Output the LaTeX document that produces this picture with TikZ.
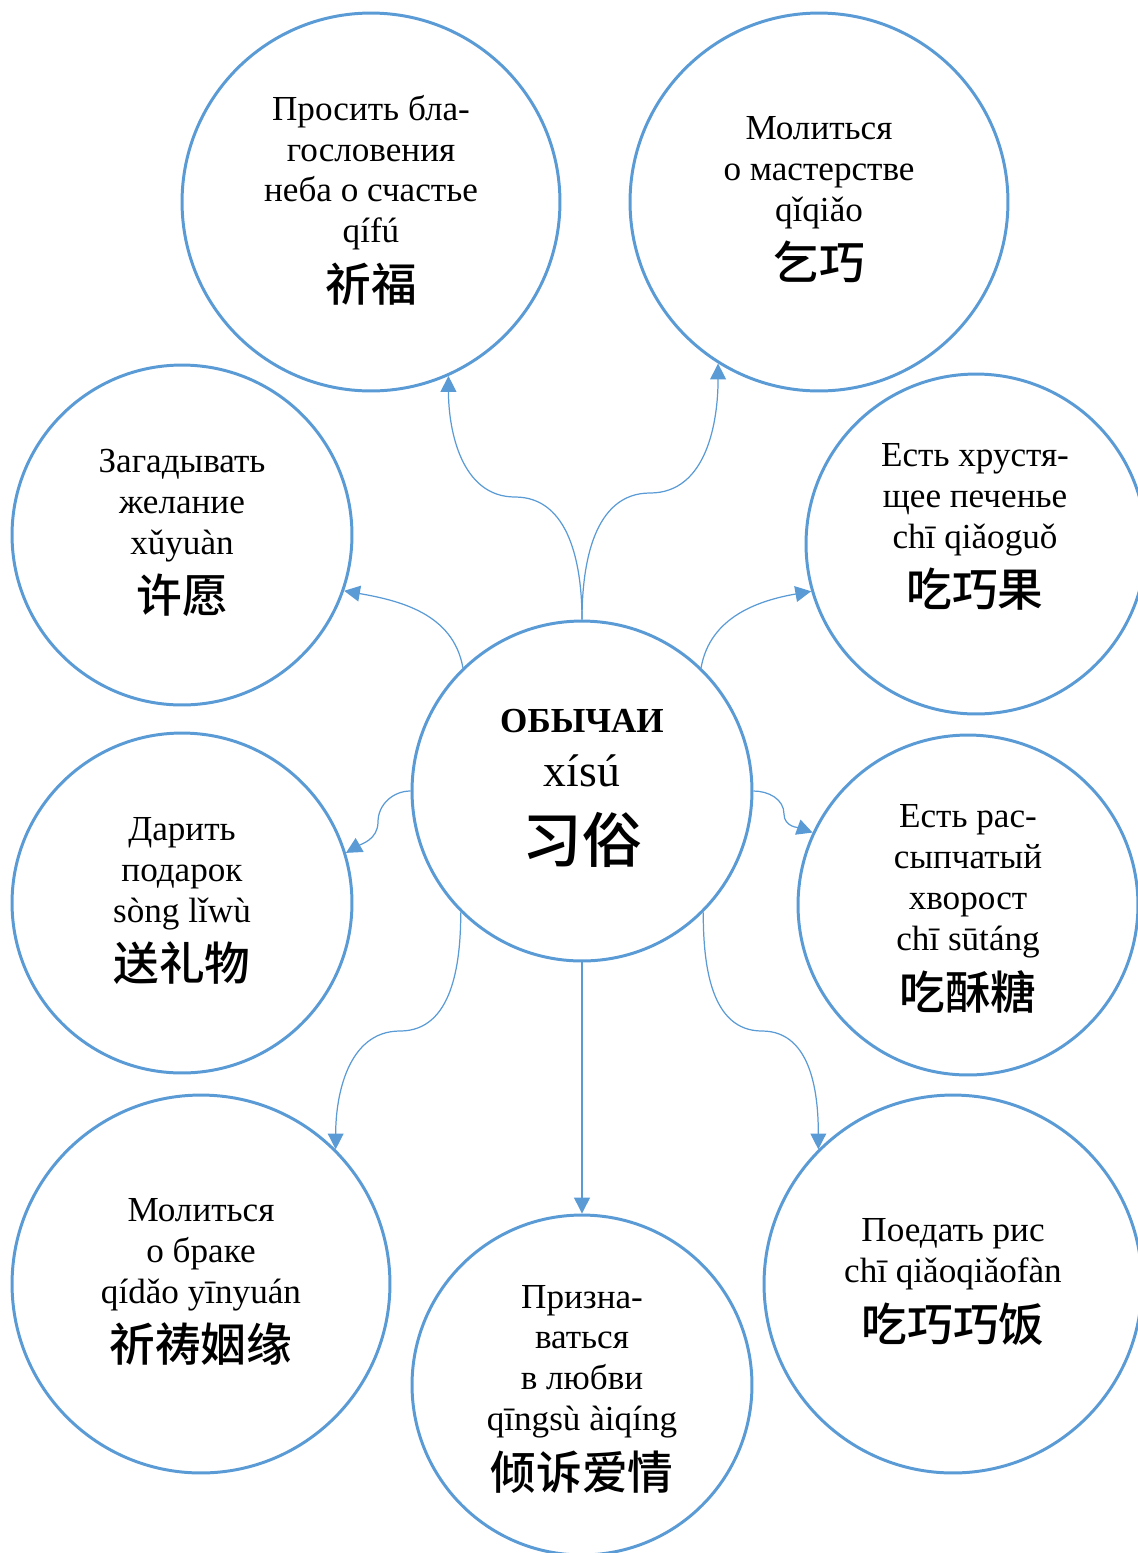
\documentclass[tikz,border=0pt]{standalone}
\usepackage{fontspec}
\setmainfont{Liberation Serif}
\newfontfamily\cjk{Noto Sans CJK SC}[BoldFont={Noto Sans CJK SC Medium}]
\usetikzlibrary{arrows.meta}
\definecolor{ringblue}{HTML}{5B9BD5}
\newcommand{\zh}[1]{{\cjk\bfseries\fontsize{26}{30}\selectfont #1}}
\begin{document}
\begin{tikzpicture}[x=0.02cm, y=-0.02cm,
    bubble/.style={circle, draw=ringblue, line width=1.7pt, inner sep=0pt, minimum size=6.8cm},
    bigbubble/.style={bubble, minimum size=7.56cm},
    note/.style={inner sep=0pt, align=center, font=\fontsize{20}{23.25}\selectfont},
    link/.style={draw=ringblue, line width=0.7pt, -{Triangle[width=9pt,length=9pt]}}]
  \useasboundingbox (0,0) rectangle (1138,1553);
  % 习俗
  \node[bubble] (hub) at (582,791) {};
  \node[note] (hubText) at (582,788) {\textbf{ОБЫЧАИ}\\[8pt]{\fontsize{26}{30}\selectfont xísú}\\[13pt]{\cjk\bfseries\fontsize{34}{38}\selectfont 习俗}};
  % 上
  \node[bigbubble] (qifu) at (371,202) {};
  \node[note] (qifuText) at (371,200) {Просить бла-\\гословения\\неба о счастье\\qífú\\[6pt]\zh{祈福}};
  \node[bigbubble] (qiqiao) at (819,202) {};
  \node[note] (qiqiaoText) at (819,200) {Молиться\\о мастерстве\\qǐqiǎo\\[6pt]\zh{乞巧}};
  % 左右
  \node[bubble] (xuyuan) at (182,535) {};
  \node[note] (xuyuanText) at (182,533) {Загадывать\\желание\\xǔyuàn\\[6pt]\zh{许愿}};
  \node[bubble] (qiaoguo) at (976,544) {};
  \node[note] (qiaoguoText) at (975,527) {Есть хрустя-\\щее печенье\\chī qiǎoguǒ\\[6pt]\zh{吃巧果}};
  \node[bubble] (liwu) at (182,903) {};
  \node[note] (liwuText) at (182,901) {Дарить\\подарок\\sòng lǐwù\\[6pt]\zh{送礼物}};
  \node[bubble] (sutang) at (968,905) {};
  \node[note] (sutangText) at (968,909) {Есть рас-\\сыпчатый\\хворост\\chī sūtáng\\[6pt]\zh{吃酥糖}};
  % 下
  \node[bigbubble] (yinyuan) at (201,1284) {};
  \node[note] (yinyuanText) at (201,1282) {Молиться\\о браке\\qídǎo yīnyuán\\[6pt]\zh{祈祷姻缘}};
  \node[bubble] (aiqing) at (582,1385) {};
  \node[note] (aiqingText) at (582,1389) {Призна-\\ваться\\в любви\\qīngsù àiqíng\\[6pt]\zh{倾诉爱情}};
  \node[bigbubble] (qiaofan) at (953,1284) {};
  \node[note] (qiaofanText) at (953,1282) {Поедать рис\\chī qiǎoqiǎofàn\\[6pt]\zh{吃巧巧饭}};
  % 连线
  \coordinate (mTL) at (515,497);
  \coordinate (mTR) at (650,493);
  \coordinate (mL) at (378,822);
  \coordinate (mR) at (784,814);
  \coordinate (mBL) at (400,1031);
  \coordinate (mBR) at (762,1031);
  \draw[link] (hub.north) to[out=90,in=0] (mTL) to[out=180,in=-90] (qifu.-66);
  \draw[link] (hub.north) to[out=90,in=180] (mTR) to[out=0,in=-90] (qiqiao.-122);
  \draw[link] (hub.134) to[out=100,in=-10] (xuyuan.-19);
  \draw[link] (hub.46) to[out=80,in=190] (qiaoguo.196);
  \draw[link] (hub.west) to[out=180,in=90] (mL) to[out=-90,in=30] (liwu.17);
  \draw[link] (hub.east) to[out=0,in=90] (mR) to[out=-90,in=160] (sutang.155);
  \draw[link] (hub.-135) to[out=-90,in=0] (mBL) to[out=180,in=90] (yinyuan.45);
  \draw[link] (hub.-45) to[out=-90,in=180] (mBR) to[out=0,in=90] (qiaofan.135);
  \draw[link] (hub.south) -- (aiqing.north);
\end{tikzpicture}
\end{document}
